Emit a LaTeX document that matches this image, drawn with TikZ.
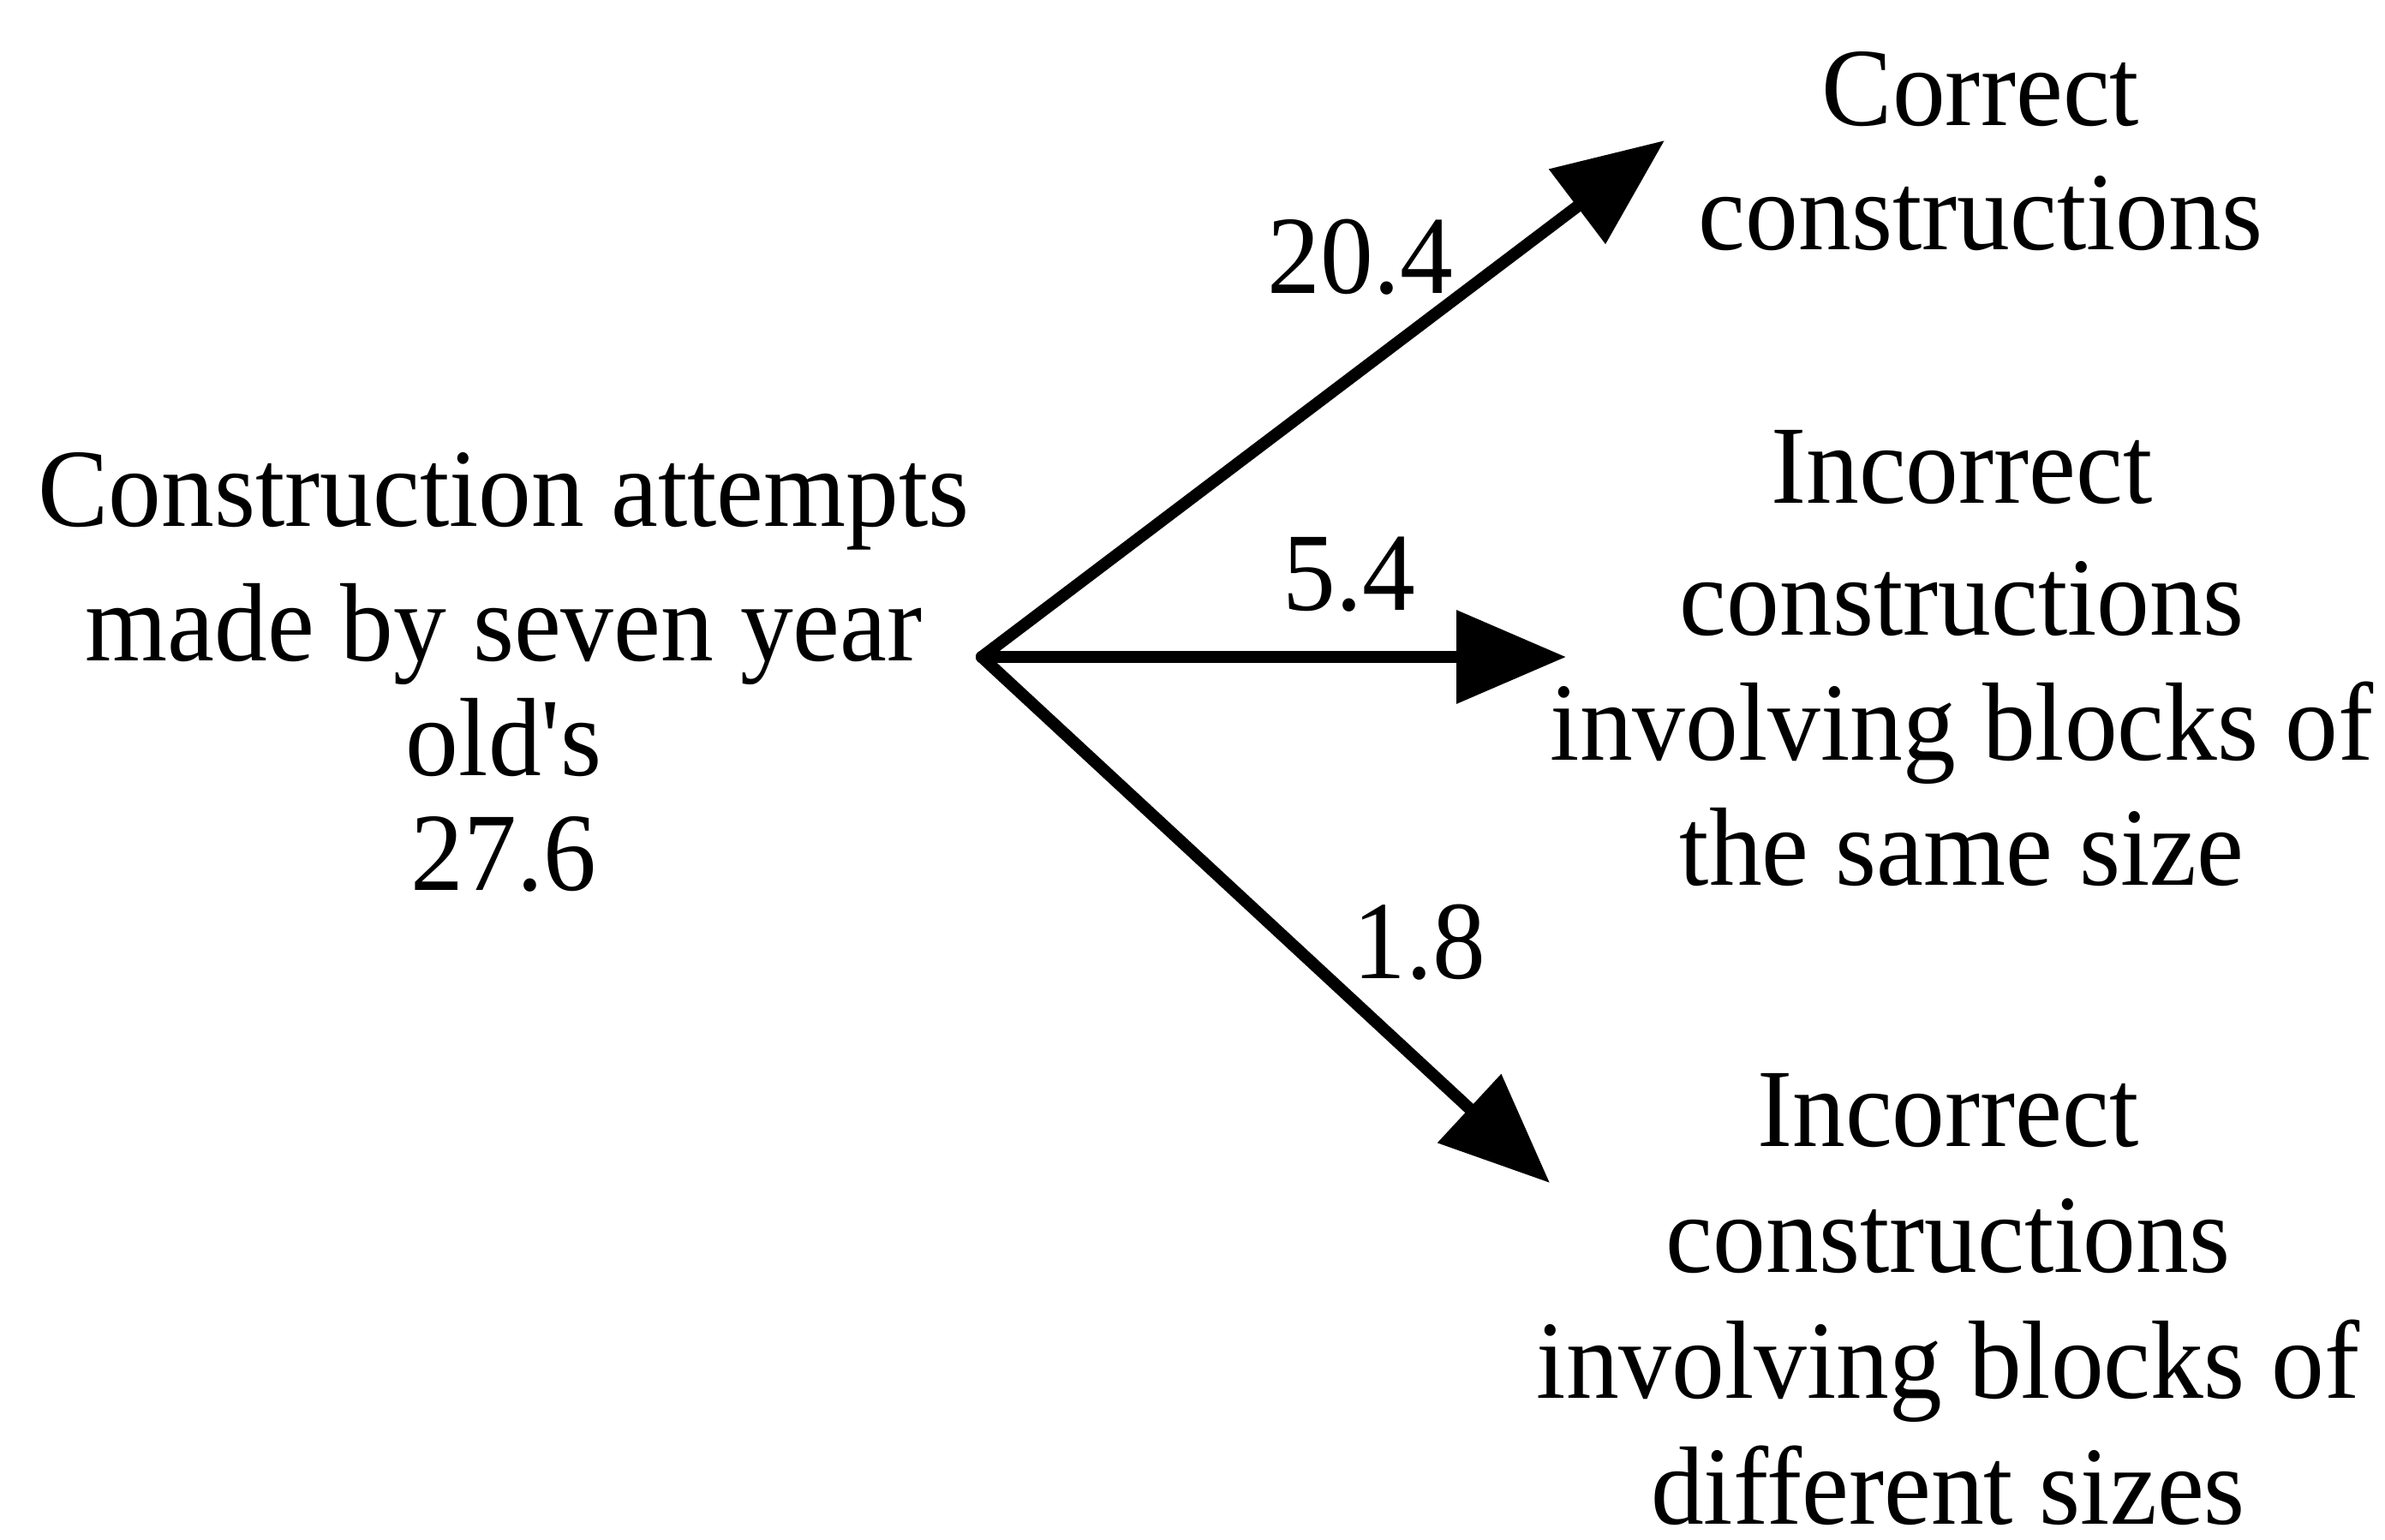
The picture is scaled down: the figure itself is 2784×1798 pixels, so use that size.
\documentclass[tikz,border=0pt]{standalone}
\usepackage{fontspec}
\setmainfont{Liberation Serif}[FakeStretch=0.95, Ligatures=TeXOff]
\usetikzlibrary{arrows.meta}
% centred lines, baseline of the node = baseline of the first line
\newcommand\ctrlines[2]{\vtop{\baselineskip=#1\lineskiplimit=-100pt\halign{\hfil##\hfil\cr #2\crcr}}}
\begin{document}
\begin{tikzpicture}[x=1pt,y=-1pt,
  txt/.style={inner sep=0pt, anchor=base, font=\fontsize{130}{146}\selectfont},
  arr/.style={line width=14pt, line cap=round, line join=round,
    -{Triangle[length=128pt,width=106pt]}}]
\useasboundingbox[fill=white] (0,0) rectangle (2784,1798);
% junction and arrow tips
\coordinate (o) at (1146,767);
\coordinate (t1) at (1943,164);
\coordinate (t2) at (1828,767);
\coordinate (t3) at (1809,1381);
% connectors
\draw[arr] (o) -- (t1);
\draw[arr] (o) -- (t2);
\draw[arr] (o) -- (t3);
% source text
\node[txt] (src) at (588,614) {\ctrlines{134pt}{Construction attempts\cr\noalign{\vskip23pt}made by seven year\cr old's\cr 27.6}};
% targets
\node[txt] (correct) at (2312,147) {\ctrlines{145pt}{Correct\cr constructions}};
\node[txt] (same) at (2290,587) {\ctrlines{146pt}{Incorrect\cr\noalign{\vskip8pt}constructions\cr involving blocks of\cr the same size}};
\node[txt] (diff) at (2274,1338) {\ctrlines{147pt}{Incorrect\cr constructions\cr involving blocks of\cr different sizes}};
% edge labels
\node[txt] (l1) at (1588,342) {20.4};
\node[txt] (l2) at (1575,712) {5.4};
\node[txt] (l3) at (1657,1142) {1.8};
\end{tikzpicture}
\end{document}
